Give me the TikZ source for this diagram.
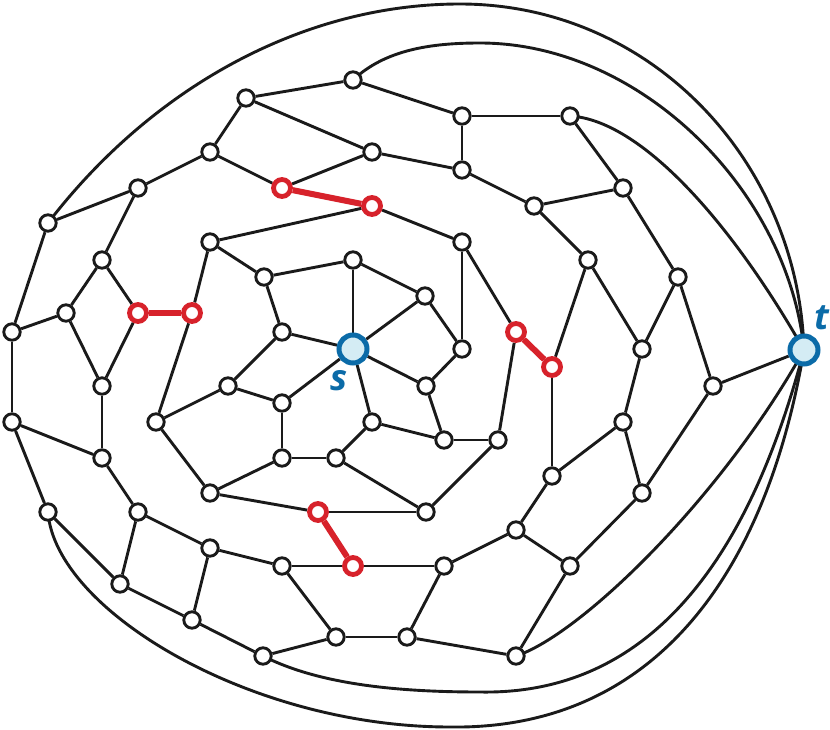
\documentclass[tikz,border=0pt]{standalone}
\usepackage{fontspec}
\newfontfamily\labfont{Open Sans}
\usetikzlibrary{backgrounds}
\definecolor{myblue}{HTML}{0B6BA8}
\definecolor{mylight}{HTML}{D4ECF4}
\definecolor{myred}{HTML}{D7222B}
\definecolor{myblack}{HTML}{1A1A1A}
\begin{document}
\begin{tikzpicture}[x=1pt,y=-1pt,
  vtx/.style={circle,draw=myblack,fill=white,line width=2.9pt,minimum size=16.4pt,inner sep=0pt},
  rvtx/.style={circle,draw=myred,fill=white,line width=4.8pt,minimum size=17pt,inner sep=0pt},
  term/.style={circle,draw=myblue,fill=mylight,line width=5pt,minimum size=28pt,inner sep=0pt},
  lab/.style={text=myblue,font=\labfont\bfseries\itshape\fontsize{36}{36}\selectfont,inner sep=0pt},
  edge/.style={draw=myblack,line width=2.9pt},
  redge/.style={draw=myred,line width=6pt}]
\useasboundingbox (0,0) rectangle (830,730);
% vertices
\node[vtx] (A1) at (353,80) {};
\node[vtx] (A2) at (246,98) {};
\node[vtx] (A3) at (462,116) {};
\node[vtx] (A4) at (570,116) {};
\node[vtx] (A5) at (210,152) {};
\node[vtx] (A6) at (372,152) {};
\node[vtx] (A7) at (462,170) {};
\node[vtx] (A8) at (138,188) {};
\node[rvtx] (R1) at (282,188) {};
\node[rvtx] (R2) at (372,206) {};
\node[vtx] (A9) at (534,206) {};
\node[vtx] (A10) at (623,188) {};
\node[vtx] (A11) at (48,223) {};
\node[vtx] (A12) at (102,260) {};
\node[vtx] (A13) at (210,242) {};
\node[vtx] (A14) at (462,242) {};
\node[vtx] (A15) at (264,277) {};
\node[vtx] (A16) at (353,260) {};
\node[vtx] (A17) at (588,260) {};
\node[vtx] (A18) at (678,277) {};
\node[vtx] (A19) at (425,296) {};
\node[vtx] (A20) at (12,332) {};
\node[vtx] (A21) at (66,313) {};
\node[rvtx] (R3) at (138,313) {};
\node[rvtx] (R4) at (192,313) {};
\node[vtx] (A22) at (282,332) {};
\node[rvtx] (R5) at (516,332) {};
\node[vtx] (A23) at (462,349) {};
\node[term] (S) at (353,349) {};
\node[vtx] (A24) at (642,349) {};
\node[rvtx] (R6) at (552,367) {};
\node[vtx] (A25) at (102,386) {};
\node[vtx] (A26) at (228,386) {};
\node[vtx] (A27) at (426,386) {};
\node[vtx] (A28) at (713,386) {};
\node[term] (T) at (804,350) {};
\node[vtx] (A29) at (156,422) {};
\node[vtx] (A30) at (282,403) {};
\node[vtx] (A31) at (372,422) {};
\node[vtx] (A32) at (623,422) {};
\node[vtx] (A33) at (12,422) {};
\node[vtx] (A34) at (444,440) {};
\node[vtx] (A35) at (498,440) {};
\node[vtx] (A36) at (102,458) {};
\node[vtx] (A37) at (282,458) {};
\node[vtx] (A38) at (336,458) {};
\node[vtx] (A39) at (552,476) {};
\node[vtx] (A40) at (210,493) {};
\node[vtx] (A41) at (642,493) {};
\node[rvtx] (R7) at (318,512) {};
\node[vtx] (A42) at (426,512) {};
\node[vtx] (A43) at (48,512) {};
\node[vtx] (A44) at (138,512) {};
\node[vtx] (A45) at (516,530) {};
\node[vtx] (A46) at (210,548) {};
\node[rvtx] (R8) at (353,566) {};
\node[vtx] (A47) at (282,566) {};
\node[vtx] (A48) at (444,566) {};
\node[vtx] (A49) at (570,566) {};
\node[vtx] (A50) at (120,584) {};
\node[vtx] (A51) at (192,620) {};
\node[vtx] (A52) at (336,637) {};
\node[vtx] (A53) at (407,637) {};
\node[vtx] (A54) at (516,656) {};
\node[vtx] (A55) at (263,656) {};
% labels
\node[lab] (sl) at (339,381) {s};
\node[lab] (tl) at (822,318) {t};
% edges
\begin{scope}[on background layer]
\foreach \a/\b in {A1/A2,A1/A3,A2/A5,A2/A6,A3/A4,A3/A7,A4/A10,A5/A8,A5/R1,A6/R1,A6/A7,
  A7/A9,A9/A10,A9/A17,A10/A18,A8/A11,A8/A12,A11/A20,A12/A21,A12/R3,A21/A20,A21/A25,
  R3/A25,R4/A13,R4/A29,R2/A13,R2/A14,A13/A15,A15/A16,A15/A22,A16/S,A16/A19,A19/S,
  A19/A23,A22/S,A22/A26,A14/A23,A14/R5,A17/R6,A17/A24,A18/A24,A18/A28,R5/A35,A23/A27,
  A24/A32,T/A28,A20/A33,S/A30,S/A31,S/A27,A25/A36,A26/A30,A26/A29,A30/A37,A31/A38,
  A31/A34,A33/A36,A33/A43,A36/A44,A29/A40,A37/A38,A37/A40,A38/A42,A40/R7,R7/A42,
  A43/A50,A44/A46,A44/A50,A46/A47,A46/A51,A50/A51,A51/A55,A47/R8,A47/A52,R8/A48,
  A52/A53,A53/A48,A55/A52,A27/A34,A34/A35,A35/A42,R6/A39,A39/A32,A39/A45,A32/A41,
  A28/A41,A45/A48,A45/A49,A41/A49,A49/A54,A53/A54}
  {\draw[edge] (\a) -- (\b);}
\foreach \a/\b in {R1/R2,R3/R4,R5/R6,R7/R8}
  {\draw[redge] (\a) -- (\b);}
% outer arcs
\draw[edge] (A11.center) .. controls (150,90) and (300,4) .. (460,4)
   .. controls (650,4) and (798,160) .. (T.center);
\draw[edge] (A1.center) .. controls (385,50) and (430,43) .. (480,43)
   .. controls (640,43) and (788,190) .. (T.center);
\draw[edge] (A4.center) .. controls (640,120) and (730,220) .. (T.center);
\draw[edge] (A54.center) .. controls (580,635) and (720,500) .. (T.center);
\draw[edge] (A55.center) .. controls (320,685) and (400,692) .. (480,692)
   .. controls (640,695) and (745,575) .. (T.center);
\draw[edge] (A43.center) .. controls (55,610) and (250,727) .. (450,727)
   .. controls (650,730) and (765,580) .. (T.center);
\end{scope}
\end{tikzpicture}
\end{document}
